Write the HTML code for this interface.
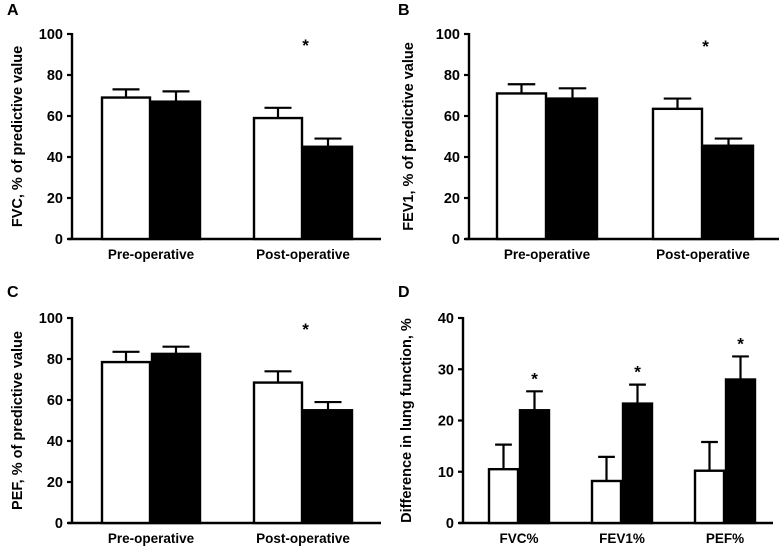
<!DOCTYPE html>
<html><head><meta charset="utf-8"><style>
body{margin:0;background:#fff;}
svg{display:block;font-family:"Liberation Sans",Arial,sans-serif;font-weight:bold;}
</style></head><body>
<svg id="fig" width="784" height="552" viewBox="0 0 784 552"></svg>
<script>
const groupsAB=["Pre-operative","Post-operative"];
const fvcWhite=[69,59], fvcBlack=[67,45], fvcWhiteErr=[4,5], fvcBlackErr=[5,4];
const fevWhite=[71,63.5], fevBlack=[68.5,45.5], fevWhiteErr=[4.5,5], fevBlackErr=[5,3.5];
const pefWhite=[78.5,68.5], pefBlack=[82.5,55], pefWhiteErr=[5,5.5], pefBlackErr=[3.5,4];
const groupsD=["FVC%","FEV1%","PEF%"];
const diffWhite=[10.5,8.2,10.2], diffBlack=[22,23.3,28], diffWhiteErr=[4.8,4.7,5.6], diffBlackErr=[3.7,3.7,4.5];
const ticksAB=[0,20,40,60,80,100], ticksD=[0,10,20,30,40];
const starsAB=[false,true], starsD=[true,true,true];

const NS="http://www.w3.org/2000/svg";
const svg=document.getElementById('fig');
function mk(tag,attrs,parent){const e=document.createElementNS(NS,tag);for(const k in attrs)e.setAttribute(k,attrs[k]);(parent||svg).appendChild(e);return e;}

function panel(p){
  const g=mk('g',{});
  
  
  const y=v=>p.y0-(v/p.max)*(p.y0-p.yTop);
  const lab=mk('text',{x:p.lx,y:p.ly,'font-size':16},g);lab.textContent=p.letter;
  
  const ya=mk('line',{x1:p.ax,y1:y(p.max)-1,x2:p.ax,y2:p.y0+1,stroke:'#000','stroke-width':2.4},g);
  
  const xa=mk('line',{x1:p.ax-4,y1:p.y0,x2:p.axEnd,y2:p.y0,stroke:'#000','stroke-width':2.4},g);
  
  p.ticks.forEach(t=>{
    mk('line',{x1:p.ax-5,y1:y(t),x2:p.ax,y2:y(t),stroke:'#000','stroke-width':2.2},g);
    const tl=mk('text',{x:p.ax-9,y:y(t)+5,'font-size':14.5,'text-anchor':'end'},g);tl.textContent=t;
    
  });
  const yt=mk('text',{x:0,y:0,'font-size':14.5,'text-anchor':'middle',transform:`translate(${p.tx},${(p.y0+y(p.max))/2}) rotate(-90)`},g);
  yt.textContent=p.title;
  p.cats.forEach((c,i)=>{
    const cx=p.c0+i*p.step;
    const bw=p.bw;
    [[p.white,p.wErr,'#fff','white'],[p.black,p.bErr,'#000','black']].forEach((s,j)=>{
      const x0=j===0?cx-bw:cx;
      const v=s[0][i], top=y(v), mid=x0+bw/2;
      const eTop=y(v+s[1][i]);
      const el=mk('line',{x1:mid,y1:top,x2:mid,y2:eTop,stroke:'#000','stroke-width':2.2},g);
      
      mk('line',{x1:mid-bw*0.27,y1:eTop,x2:mid+bw*0.27,y2:eTop,stroke:'#000','stroke-width':2.2},g);
      const r=mk('rect',{x:x0+1,y:top,width:bw-2,height:p.y0-top,fill:s[2],stroke:'#000','stroke-width':2.4},g);
      
    });
    if(p.stars[i]){
      const sy=p.starFixed?p.starY:y(p.black[i]+p.bErr[i])-p.starOff;
      const sx=p.starFixed?cx-bw/2+(p.bw*0.55):cx+bw/2;
      const st=mk('text',{x:sx,y:sy,'font-size':17,'text-anchor':'middle'},g);st.textContent='*';
      
    }
    const xl=mk('text',{x:cx,y:p.y0+20,'font-size':13.5,'text-anchor':'middle'},g);xl.textContent=c;
    
  });
}
panel({name:'panel-a',letter:'A',lx:7,ly:15,ax:72,axEnd:381,y0:239,yTop:34,max:100,ticks:ticksAB,title:'FVC, % of predictive value',tx:22,
  cats:groupsAB,c0:151,step:152,bw:50,white:fvcWhite,black:fvcBlack,wErr:fvcWhiteErr,bErr:fvcBlackErr,stars:starsAB,starFixed:true,starY:51});
panel({name:'panel-b',letter:'B',lx:398,ly:15,ax:469,axEnd:779,y0:239,yTop:34,max:100,ticks:ticksAB,title:'FEV1, % of predictive value',tx:413,
  cats:groupsAB,c0:547,step:156,bw:51,white:fevWhite,black:fevBlack,wErr:fevWhiteErr,bErr:fevBlackErr,stars:starsAB,starFixed:true,starY:52});
panel({name:'panel-c',letter:'C',lx:7,ly:297,ax:72,axEnd:381,y0:523,yTop:318,max:100,ticks:ticksAB,title:'PEF, % of predictive value',tx:22,
  cats:groupsAB,c0:151,step:152,bw:50,white:pefWhite,black:pefBlack,wErr:pefWhiteErr,bErr:pefBlackErr,stars:starsAB,starFixed:true,starY:335});
panel({name:'panel-d',letter:'D',lx:398,ly:297,ax:463,axEnd:773,y0:523,yTop:318,max:40,ticks:ticksD,title:'Difference in lung function, %',tx:411,
  cats:groupsD,c0:519,step:103,bw:31,white:diffWhite,black:diffBlack,wErr:diffWhiteErr,bErr:diffBlackErr,stars:starsD,starFixed:false,starOff:7});
</script>
</body></html>
